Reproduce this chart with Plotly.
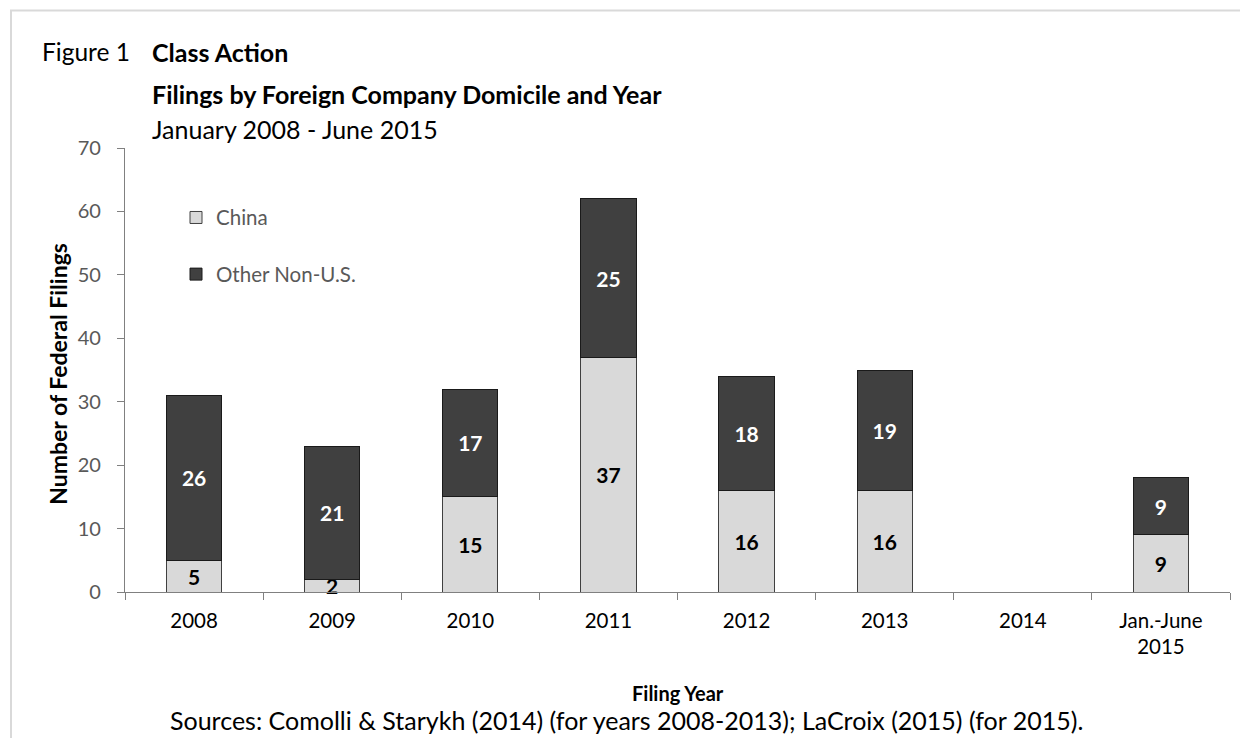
import plotly.graph_objects as go

categories = ["2008", "2009", "2010", "2011", "2012", "2013", "2014", "Jan.-June<br>2015"]
china = [5, 2, 15, 37, 16, 16, None, 9]
other = [26, 21, 17, 25, 18, 19, None, 9]
y_ticks = [0, 10, 20, 30, 40, 50, 60, 70]

FONT = "Lato"
OFF = 8  # browser body margin
W, H = 1248 - OFF, 738 - OFF
# plot area in reference (screen) pixels
X0, X1, Y0, Y1 = 125, 1230, 148.4, 592
L, R, T, B = X0 - OFF, W - (X1 - OFF), Y0 - OFF, H - (Y1 - OFF)

def px(x):
    return (x - X0) / (X1 - X0)

def py(y):
    return (Y1 - y) / (Y1 - Y0)

fig = go.Figure()
fig.add_trace(go.Bar(
    x=categories, y=china, name="China", legendgroup="a",
    marker=dict(color="#D9D9D9", line=dict(color="#404040", width=1)),
    text=[str(v) if v is not None else "" for v in china],
    textposition="inside", insidetextanchor="middle", constraintext="none", textangle=0,
    textfont=dict(family=FONT, size=21, color="black", weight="bold"),
    cliponaxis=False,
))
fig.add_trace(go.Bar(
    x=categories, y=other, name="Other Non-U.S.", legendgroup="b",
    marker=dict(color="#404040", line=dict(color="#1a1a1a", width=1)),
    text=[str(v) if v is not None else "" for v in other],
    textposition="inside", insidetextanchor="middle", constraintext="none", textangle=0,
    textfont=dict(family=FONT, size=21, color="white", weight="bold"),
    cliponaxis=False,
))

fig.update_layout(
    width=W, height=H,
    margin=dict(l=L, r=R, t=T, b=B, autoexpand=False),
    barmode="stack", bargap=0.6,
    plot_bgcolor="white", paper_bgcolor="white",
    font=dict(family=FONT, size=20, color="black"),
    showlegend=True,
    legend=dict(
        x=px(176), y=py(198), xanchor="left", yanchor="top",
        traceorder="grouped", tracegroupgap=27,
        font=dict(family=FONT, size=20.5, color="#595959"),
        bgcolor="rgba(0,0,0,0)",
    ),
    xaxis=dict(
        showline=True, linecolor="#808080", linewidth=1.3,
        ticks="outside", ticklen=7, tickcolor="#808080", tickwidth=1.3,
        tickson="boundaries", showgrid=False, ticklabelstandoff=10,
        tickfont=dict(family=FONT, size=20.5, color="black"),
    ),
    yaxis=dict(
        range=[0, 70], tickvals=y_ticks, showline=True, linecolor="#808080", linewidth=1.3,
        ticks="outside", ticklen=7, tickcolor="#808080", tickwidth=1.3,
        showgrid=False, zeroline=False, ticklabelstandoff=12,
        tickfont=dict(family=FONT, size=20, color="#595959"),
    ),
    shapes=[dict(
        type="rect", xref="paper", yref="paper",
        x0=px(11), x1=px(1270), y0=py(760), y1=py(11),
        line=dict(color="#D9D9D9", width=2), fillcolor="rgba(0,0,0,0)", layer="below",
    )],
    annotations=[
        dict(text="Figure 1", x=px(40), y=py(52), xref="paper", yref="paper",
             xanchor="left", yanchor="middle", showarrow=False,
             font=dict(family=FONT, size=24.5, color="black")),
        dict(text="<b>Class Action</b>", x=px(150), y=py(52), xref="paper", yref="paper",
             xanchor="left", yanchor="middle", showarrow=False,
             font=dict(family=FONT, size=25, color="black")),
        dict(text="<b>Filings by Foreign Company Domicile and Year</b>", x=px(150), y=py(94),
             xref="paper", yref="paper", xanchor="left", yanchor="middle", showarrow=False,
             font=dict(family=FONT, size=25, color="black")),
        dict(text="January 2008 - June 2015", x=px(150), y=py(129), xref="paper", yref="paper",
             xanchor="left", yanchor="middle", showarrow=False,
             font=dict(family=FONT, size=25, color="black")),
        dict(text="<b>Number of Federal Filings</b>", x=px(58), y=py(374), xref="paper", yref="paper",
             xanchor="center", yanchor="middle", showarrow=False, textangle=-90,
             font=dict(family=FONT, size=23, color="black")),
        dict(text="<b>Filing Year</b>", x=px(678), y=py(693), xref="paper", yref="paper",
             xanchor="center", yanchor="middle", showarrow=False,
             font=dict(family=FONT, size=20, color="black")),
        dict(text="Sources: Comolli &amp; Starykh (2014) (for years 2008-2013); LaCroix (2015) (for 2015).",
             x=px(626), y=py(720), xref="paper", yref="paper",
             xanchor="center", yanchor="middle", showarrow=False,
             font=dict(family=FONT, size=25, color="black")),
    ],
)

fig.write_html("out.html")
